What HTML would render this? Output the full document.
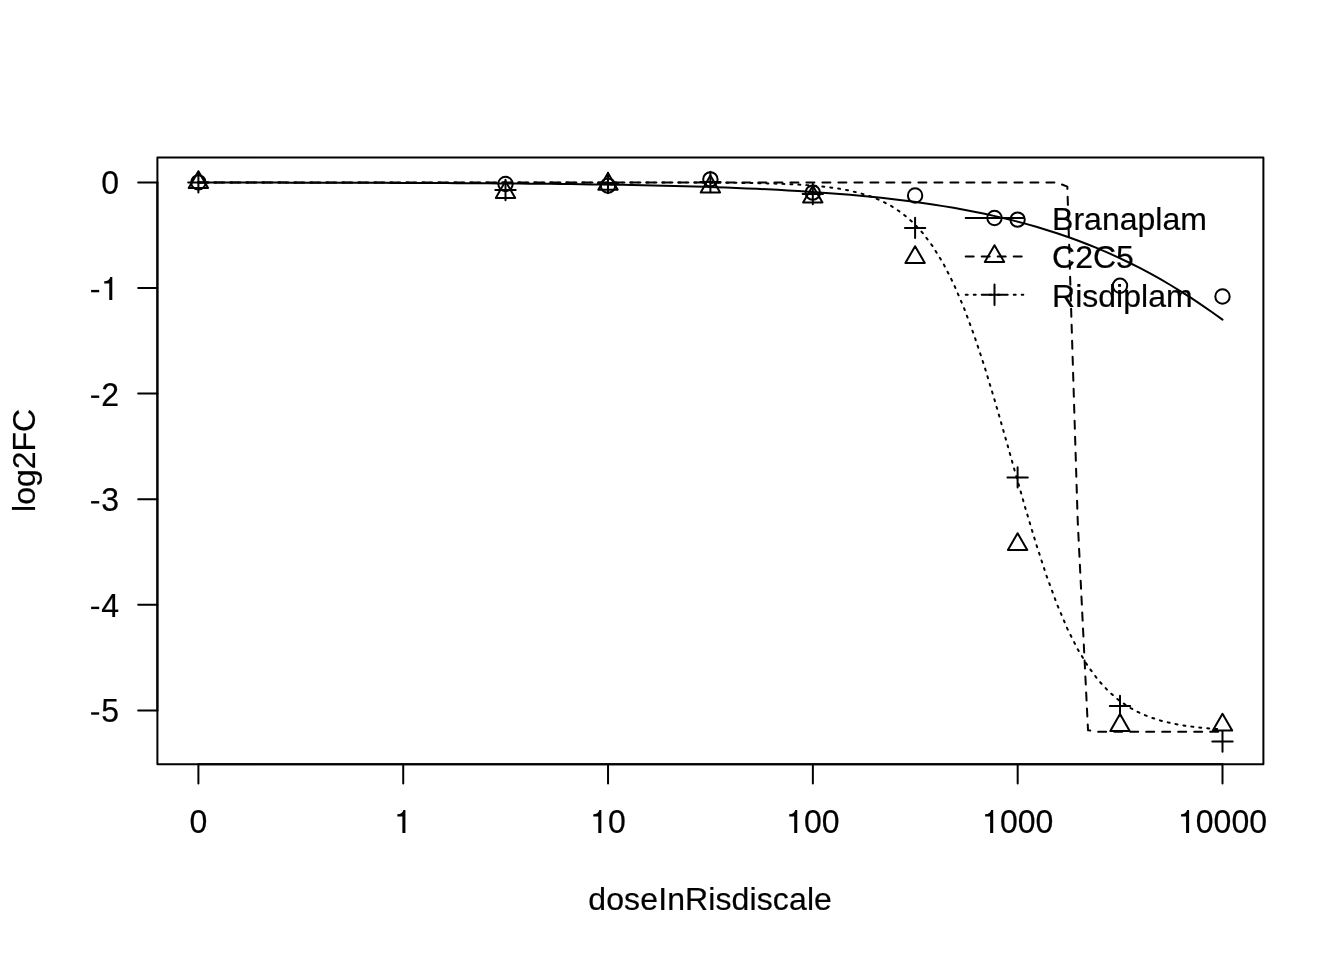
<!DOCTYPE html>
<html><head><meta charset="utf-8"><title>plot</title>
<style>html,body{margin:0;padding:0;background:#fff}body{width:1344px;height:960px;overflow:hidden;font-family:"Liberation Sans",sans-serif}svg{display:block;will-change:transform;opacity:0.9999}</style></head>
<body>
<svg width="1344" height="960" viewBox="0 0 1344 960">
<rect width="1344" height="960" fill="#fff"/>
<g fill="none" stroke="#000" stroke-width="2" stroke-linecap="round" stroke-linejoin="round">
<path d="M198.40,182.52 L208.74,182.53 L219.09,182.54 L229.43,182.55 L239.78,182.56 L250.12,182.57 L260.47,182.58 L270.81,182.60 L281.16,182.61 L291.50,182.63 L301.84,182.65 L312.19,182.67 L322.53,182.69 L332.88,182.71 L343.22,182.73 L353.57,182.76 L363.91,182.79 L374.26,182.82 L384.60,182.85 L394.94,182.88 L405.29,182.92 L415.63,182.96 L425.98,183.00 L436.32,183.05 L446.67,183.10 L457.01,183.16 L467.36,183.21 L477.70,183.28 L488.04,183.34 L498.39,183.42 L508.73,183.49 L519.08,183.58 L529.42,183.67 L539.77,183.77 L550.11,183.87 L560.46,183.98 L570.80,184.11 L581.14,184.24 L591.49,184.38 L601.83,184.53 L612.18,184.69 L622.52,184.87 L632.87,185.06 L643.21,185.26 L653.56,185.48 L663.90,185.72 L674.24,185.97 L684.59,186.25 L694.93,186.54 L705.28,186.86 L715.62,187.20 L725.97,187.57 L736.31,187.96 L746.66,188.38 L757.00,188.84 L767.34,189.33 L777.69,189.86 L788.03,190.42 L798.38,191.03 L808.72,191.69 L819.07,192.39 L829.41,193.14 L839.76,193.95 L850.10,194.82 L860.44,195.76 L870.79,196.76 L881.13,197.84 L891.48,198.99 L901.82,200.23 L912.17,201.55 L922.51,202.97 L932.86,204.49 L943.20,206.12 L953.54,207.86 L963.89,209.73 L974.23,211.72 L984.58,213.85 L994.92,216.12 L1005.27,218.54 L1015.61,221.13 L1025.96,223.89 L1036.30,226.82 L1046.64,229.94 L1056.99,233.26 L1067.33,236.79 L1077.68,240.53 L1088.02,244.49 L1098.37,248.69 L1108.71,253.13 L1119.06,257.81 L1129.40,262.76 L1139.74,267.97 L1150.09,273.45 L1160.43,279.20 L1170.78,285.24 L1181.12,291.56 L1191.47,298.16 L1201.81,305.05 L1212.16,312.22 L1222.50,319.68"/>
<path d="M198.4,764.2 H1222.5"/>
<path d="M198.40,764.2 v19.2"/>
<path d="M403.22,764.2 v19.2"/>
<path d="M608.04,764.2 v19.2"/>
<path d="M812.86,764.2 v19.2"/>
<path d="M1017.68,764.2 v19.2"/>
<path d="M1222.50,764.2 v19.2"/>
<path d="M157.4,710.40 V182.40"/>
<path d="M157.4,182.40 h-19.2"/>
<path d="M157.4,288.00 h-19.2"/>
<path d="M157.4,393.60 h-19.2"/>
<path d="M157.4,499.20 h-19.2"/>
<path d="M157.4,604.80 h-19.2"/>
<path d="M157.4,710.40 h-19.2"/>
<rect x="157.4" y="157.4" width="1106.0" height="606.8"/>
<circle cx="198.40" cy="182.40" r="7.20"/>
<circle cx="505.50" cy="184.00" r="7.20"/>
<circle cx="608.00" cy="185.65" r="7.20"/>
<circle cx="710.40" cy="179.40" r="7.20"/>
<circle cx="812.80" cy="192.60" r="7.20"/>
<circle cx="915.10" cy="195.50" r="7.20"/>
<circle cx="1017.60" cy="219.60" r="7.20"/>
<circle cx="1120.00" cy="285.80" r="7.20"/>
<circle cx="1222.50" cy="296.50" r="7.20"/>
<path d="M198.40,182.40 L208.74,182.40 L219.09,182.40 L229.43,182.40 L239.78,182.40 L250.12,182.40 L260.47,182.40 L270.81,182.40 L281.16,182.40 L291.50,182.40 L301.84,182.40 L312.19,182.40 L322.53,182.40 L332.88,182.40 L343.22,182.40 L353.57,182.40 L363.91,182.40 L374.26,182.40 L384.60,182.40 L394.94,182.40 L405.29,182.40 L415.63,182.40 L425.98,182.40 L436.32,182.40 L446.67,182.40 L457.01,182.40 L467.36,182.40 L477.70,182.40 L488.04,182.40 L498.39,182.40 L508.73,182.40 L519.08,182.40 L529.42,182.40 L539.77,182.40 L550.11,182.40 L560.46,182.40 L570.80,182.40 L581.14,182.40 L591.49,182.40 L601.83,182.40 L612.18,182.40 L622.52,182.40 L632.87,182.40 L643.21,182.40 L653.56,182.40 L663.90,182.40 L674.24,182.40 L684.59,182.40 L694.93,182.40 L705.28,182.40 L715.62,182.40 L725.97,182.40 L736.31,182.40 L746.66,182.40 L757.00,182.40 L767.34,182.40 L777.69,182.40 L788.03,182.40 L798.38,182.40 L808.72,182.40 L819.07,182.40 L829.41,182.40 L839.76,182.40 L850.10,182.40 L860.44,182.40 L870.79,182.40 L881.13,182.40 L891.48,182.40 L901.82,182.40 L912.17,182.40 L922.51,182.40 L932.86,182.40 L943.20,182.40 L953.54,182.40 L963.89,182.40 L974.23,182.40 L984.58,182.40 L994.92,182.40 L1005.27,182.40 L1015.61,182.40 L1025.96,182.40 L1036.30,182.40 L1046.64,182.40 L1056.99,182.42 L1067.33,186.63 L1077.68,520.14 L1088.02,730.17 L1098.37,731.83 L1108.71,731.84 L1119.06,731.84 L1129.40,731.84 L1139.74,731.84 L1150.09,731.84 L1160.43,731.84 L1170.78,731.84 L1181.12,731.84 L1191.47,731.84 L1201.81,731.84 L1212.16,731.84 L1222.50,731.84" stroke-dasharray="8 8"/>
<path d="M198.40,171.20 L208.10,188.00 L188.70,188.00 Z"/>
<path d="M505.50,181.10 L515.20,197.90 L495.80,197.90 Z"/>
<path d="M608.00,172.90 L617.70,189.70 L598.30,189.70 Z"/>
<path d="M710.40,175.60 L720.10,192.40 L700.70,192.40 Z"/>
<path d="M812.80,185.65 L822.50,202.45 L803.10,202.45 Z"/>
<path d="M915.10,246.20 L924.80,263.00 L905.40,263.00 Z"/>
<path d="M1017.60,533.20 L1027.30,550.00 L1007.90,550.00 Z"/>
<path d="M1120.00,714.10 L1129.70,730.90 L1110.30,730.90 Z"/>
<path d="M1222.50,713.80 L1232.20,730.60 L1212.80,730.60 Z"/>
<path d="M198.40,182.40 L208.74,182.40 L219.09,182.40 L229.43,182.40 L239.78,182.40 L250.12,182.40 L260.47,182.40 L270.81,182.40 L281.16,182.40 L291.50,182.40 L301.84,182.40 L312.19,182.40 L322.53,182.40 L332.88,182.40 L343.22,182.40 L353.57,182.40 L363.91,182.40 L374.26,182.40 L384.60,182.40 L394.94,182.40 L405.29,182.40 L415.63,182.40 L425.98,182.40 L436.32,182.40 L446.67,182.40 L457.01,182.40 L467.36,182.40 L477.70,182.40 L488.04,182.40 L498.39,182.40 L508.73,182.40 L519.08,182.40 L529.42,182.40 L539.77,182.40 L550.11,182.40 L560.46,182.40 L570.80,182.41 L581.14,182.41 L591.49,182.41 L601.83,182.41 L612.18,182.42 L622.52,182.42 L632.87,182.43 L643.21,182.44 L653.56,182.45 L663.90,182.47 L674.24,182.49 L684.59,182.52 L694.93,182.55 L705.28,182.60 L715.62,182.66 L725.97,182.74 L736.31,182.84 L746.66,182.98 L757.00,183.15 L767.34,183.39 L777.69,183.69 L788.03,184.09 L798.38,184.60 L808.72,185.28 L819.07,186.16 L829.41,187.31 L839.76,188.80 L850.10,190.74 L860.44,193.26 L870.79,196.51 L881.13,200.72 L891.48,206.11 L901.82,213.01 L912.17,221.76 L922.51,232.77 L932.86,246.47 L943.20,263.30 L953.54,283.62 L963.89,307.68 L974.23,335.51 L984.58,366.83 L994.92,401.02 L1005.27,437.12 L1015.61,473.93 L1025.96,510.13 L1036.30,544.52 L1046.64,576.10 L1056.99,604.23 L1067.33,628.60 L1077.68,649.22 L1088.02,666.32 L1098.37,680.26 L1108.71,691.48 L1119.06,700.40 L1129.40,707.43 L1139.74,712.94 L1150.09,717.23 L1160.43,720.55 L1170.78,723.12 L1181.12,725.11 L1191.47,726.63 L1201.81,727.80 L1212.16,728.70 L1222.50,729.39" stroke-dasharray="2 6"/>
<path d="M188.22,182.40 H208.58 M198.40,172.22 V192.58"/>
<path d="M495.32,190.00 H515.68 M505.50,179.82 V200.18"/>
<path d="M597.82,183.00 H618.18 M608.00,172.82 V193.18"/>
<path d="M700.22,182.00 H720.58 M710.40,171.82 V192.18"/>
<path d="M802.62,194.00 H822.98 M812.80,183.82 V204.18"/>
<path d="M904.92,227.90 H925.28 M915.10,217.72 V238.08"/>
<path d="M1007.42,477.40 H1027.78 M1017.60,467.22 V487.58"/>
<path d="M1109.82,705.90 H1130.18 M1120.00,695.72 V716.08"/>
<path d="M1212.32,741.60 H1232.68 M1222.50,731.42 V751.78"/>
<path d="M965.7,218.0 H1023.3"/>
<path d="M965.7,256.4 H1023.3" stroke-dasharray="8 8"/>
<path d="M965.7,294.8 H1023.3" stroke-dasharray="2 6"/>
<circle cx="994.50" cy="218.00" r="7.20"/>
<path d="M994.50,245.20 L1004.20,262.00 L984.80,262.00 Z"/>
<path d="M984.32,294.80 H1004.68 M994.50,284.62 V304.98"/>
</g>
<g font-family="'Liberation Sans', sans-serif" font-size="32px" fill="#000" stroke="#000" stroke-width="0.2" stroke-linejoin="round">
<text x="1052.1" y="229.9">Branaplam</text>
<text x="1052.1" y="268.3">C2C5</text>
<text x="1052.1" y="306.7">Risdiplam</text>
<text transform="translate(189.50,832.90) scale(1,1.022)">0</text>
<path d="M11.1,0 H8.05 V-16.45 H3.05 V-18.75 C6.2,-18.85 8.3,-19.9 9.1,-22.9 H11.1 Z" transform="translate(394.32,832.90)" stroke="none"/>
<path d="M11.1,0 H8.05 V-16.45 H3.05 V-18.75 C6.2,-18.85 8.3,-19.9 9.1,-22.9 H11.1 Z" transform="translate(590.24,832.90)" stroke="none"/><text transform="translate(608.04,832.90) scale(1,1.022)">0</text>
<path d="M11.1,0 H8.05 V-16.45 H3.05 V-18.75 C6.2,-18.85 8.3,-19.9 9.1,-22.9 H11.1 Z" transform="translate(786.16,832.90)" stroke="none"/><text transform="translate(803.96,832.90) scale(1,1.022)">0</text><text transform="translate(821.76,832.90) scale(1,1.022)">0</text>
<path d="M11.1,0 H8.05 V-16.45 H3.05 V-18.75 C6.2,-18.85 8.3,-19.9 9.1,-22.9 H11.1 Z" transform="translate(982.09,832.90)" stroke="none"/><text transform="translate(999.88,832.90) scale(1,1.022)">0</text><text transform="translate(1017.68,832.90) scale(1,1.022)">0</text><text transform="translate(1035.48,832.90) scale(1,1.022)">0</text>
<path d="M11.1,0 H8.05 V-16.45 H3.05 V-18.75 C6.2,-18.85 8.3,-19.9 9.1,-22.9 H11.1 Z" transform="translate(1178.01,832.90)" stroke="none"/><text transform="translate(1195.80,832.90) scale(1,1.022)">0</text><text transform="translate(1213.60,832.90) scale(1,1.022)">0</text><text transform="translate(1231.40,832.90) scale(1,1.022)">0</text><text transform="translate(1249.20,832.90) scale(1,1.022)">0</text>
<text transform="translate(101.20,194.30) scale(1,1.022)">0</text>
<rect x="91.10" y="289.90" width="8.1" height="2.4" stroke="none"/><path d="M11.1,0 H8.05 V-16.45 H3.05 V-18.75 C6.2,-18.85 8.3,-19.9 9.1,-22.9 H11.1 Z" transform="translate(101.20,299.90)" stroke="none"/>
<rect x="91.10" y="395.50" width="8.1" height="2.4" stroke="none"/><text transform="translate(101.20,405.50) scale(1,1.022)">2</text>
<rect x="91.10" y="501.10" width="8.1" height="2.4" stroke="none"/><text transform="translate(101.20,511.10) scale(1,1.022)">3</text>
<rect x="91.10" y="606.70" width="8.1" height="2.4" stroke="none"/><text transform="translate(101.20,616.70) scale(1,1.022)">4</text>
<rect x="91.10" y="712.30" width="8.1" height="2.4" stroke="none"/><text transform="translate(101.20,722.30) scale(1,1.022)">5</text>
<text x="710.1" y="910.0" text-anchor="middle" textLength="243.6" lengthAdjust="spacing">doseInRisdiscale</text>
<text transform="translate(34.6,460.4) rotate(-90)" text-anchor="middle">log2FC</text>
</g></svg>
</body></html>
